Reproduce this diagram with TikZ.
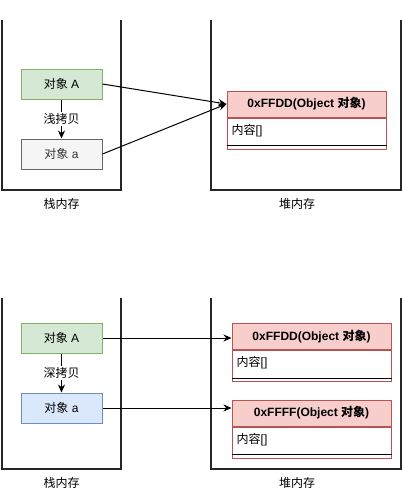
\documentclass[tikz,border=0pt]{standalone}
\usepackage{fontspec}
\setmainfont{Liberation Sans}
\newfontfamily\cjk{Noto Sans CJK SC}
\usetikzlibrary{arrows.meta}
\definecolor{gfill}{HTML}{D5E8D4}\definecolor{gline}{HTML}{82B366}
\definecolor{yfill}{HTML}{F5F5F5}\definecolor{yline}{HTML}{666666}\definecolor{ytext}{HTML}{333333}
\definecolor{bfill}{HTML}{DAE8FC}\definecolor{bline}{HTML}{6C8EBF}
\definecolor{rfill}{HTML}{F8CECC}\definecolor{rline}{HTML}{B85450}
\tikzset{
  txt/.style={font=\fontsize{12}{14}\selectfont, inner sep=0pt},
  objbox/.style={txt, draw, line width=1pt, minimum width=81pt, minimum height=30pt},
  greenbox/.style={objbox, fill=gfill, draw=gline},
  graybox/.style={objbox, fill=yfill, draw=yline, text=ytext},
  bluebox/.style={objbox, fill=bfill, draw=bline},
  hdrbox/.style={txt, font=\fontsize{12}{14}\selectfont\bfseries, draw=rline, fill=rfill, line width=1pt, minimum width=159pt, minimum height=26pt},
  bodybox/.style={draw=rline, fill=white, line width=1pt, minimum width=159pt, minimum height=31pt, inner sep=0pt},
  container/.style={line width=1.6pt, draw=black!85},
  arr/.style={-{Stealth[length=8pt,width=7pt]}, line width=1pt},
  seplabel/.style={txt, fill=white, inner sep=1.5pt},
}
\begin{document}
\begin{tikzpicture}[x=1pt,y=-1pt]
\useasboundingbox (0,0) rectangle (402,488);
% ---------- top: shallow copy ----------
\draw[container] (2,20) -- (2,190) -- (121,190) -- (121,20);
\draw[container] (211,20) -- (211,190) -- (401,190) -- (401,20);
\node[txt] (stack1) at (61.5,204) {\cjk 栈内存};
\node[txt] (heap1) at (297,204) {\cjk 堆内存};
\node[greenbox] (A1) at (61.5,84) {{\cjk 对象} A};
\node[graybox] (a1) at (61.5,154) {{\cjk 对象} a};
\node[hdrbox] (h1) at (306.5,104) {0xFFDD(Object {\cjk 对象})};
\node[bodybox, anchor=north] (b1) at (h1.south) {};
\node[txt, anchor=west] (c1) at ([xshift=5pt,yshift=-13pt]b1.north west) {{\cjk 内容}[]};
\draw[line width=1pt] ([yshift=4pt]b1.south west) -- ([yshift=4pt]b1.south east);
\draw[arr] (A1.south) -- (a1.north) node[seplabel, midway] {\cjk 浅拷贝};
\draw[arr] (A1.east) -- (h1.west);
\draw[arr] (a1.east) -- (h1.west);
% ---------- bottom: deep copy ----------
\draw[container] (2,298) -- (2,469) -- (121,469) -- (121,298);
\draw[container] (211,298) -- (211,469) -- (401,469) -- (401,298);
\node[txt] (stack2) at (61.5,483) {\cjk 栈内存};
\node[txt] (heap2) at (297,483) {\cjk 堆内存};
\node[greenbox] (A2) at (61.5,338) {{\cjk 对象} A};
\node[bluebox] (a2) at (61.5,408) {{\cjk 对象} a};
\node[hdrbox] (h2) at (311.5,336.5) {0xFFDD(Object {\cjk 对象})};
\node[bodybox, anchor=north] (b2) at (h2.south) {};
\node[txt, anchor=west] (c2) at ([xshift=5pt,yshift=-13pt]b2.north west) {{\cjk 内容}[]};
\draw[line width=1pt] ([yshift=4pt]b2.south west) -- ([yshift=4pt]b2.south east);
\node[hdrbox] (h3) at (311.5,413) {0xFFFF(Object {\cjk 对象})};
\node[bodybox, anchor=north] (b3) at (h3.south) {};
\node[txt, anchor=west] (c3) at ([xshift=5pt,yshift=-13pt]b3.north west) {{\cjk 内容}[]};
\draw[line width=1pt] ([yshift=4pt]b3.south west) -- ([yshift=4pt]b3.south east);
\draw[arr] (A2.south) -- (a2.north) node[seplabel, midway] {\cjk 深拷贝};
\draw[arr] (A2.east) -- (A2.east -| h2.west);
\draw[arr] (a2.east) -- (a2.east -| h3.west);
\end{tikzpicture}
\end{document}
